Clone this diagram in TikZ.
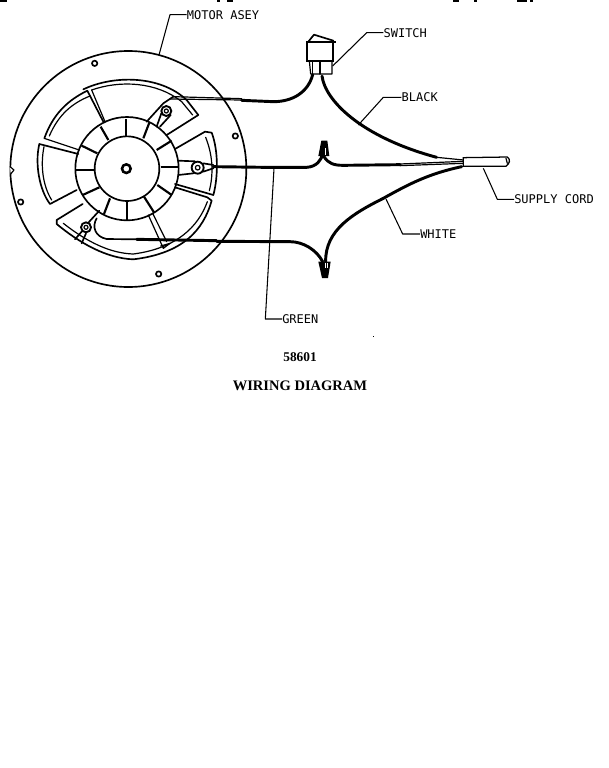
\documentclass[tikz,border=0pt]{standalone}
\usepackage{fontspec}
\setmainfont{Liberation Serif}
\newfontfamily\lblfont{DejaVu Sans Mono}
\tikzset{
  ln/.style={line width=1.25pt,line join=round,line cap=round},
  thn/.style={line width=0.9pt,line join=round,line cap=round},
  wire/.style={line width=2.2pt,line cap=round},
  leader/.style={line width=0.8pt,line join=round},
  lbl/.style={font=\lblfont\fontsize{9}{10}\selectfont,anchor=west,inner sep=0pt,text=black},
  captxt/.style={inner sep=0pt,text=black}
}
\begin{document}
\begin{tikzpicture}[x=0.25pt,y=-0.25pt]
\useasboundingbox (0,0) rectangle (1824,2304);
\fill[white] (0,0) rectangle (1824,2304);
% outer plate
\draw[ln] (385,507) circle [radius=354];
\draw[thn,fill=white] (30,500) -- (42,510) -- (32,522);
\foreach \p in {(284,190),(706,408),(476,822),(62,606)} \draw[ln] \p circle [radius=8];
% hub
\draw[ln] (381,506) circle [radius=97];
\draw[ln] (381,506) circle [radius=155];
\draw[line width=1.9pt] (379,506) circle [radius=13];
% hub ribs
\foreach \a/\b/\c/\d in {378/358/378/408,302/380/325/420,245/437/292/460,228/511/283/511,248/585/298/562,330/595/312/642,382/605/382/660,432/590/462/637,472/555/515/585,482/500/535/500,470/450/515/422,430/415/448/368}
  \draw[line width=1.6pt] (\a,\b) -- (\c,\d);
% blades
\draw[ln] (118,432) .. controls (104,490) and (118,570) .. (150,612) -- (230,570);
\draw[ln] (118,432) -- (235,462);
\draw[thn] (132,440) .. controls (120,500) and (130,560) .. (155,600);
\draw[ln] (133,415) .. controls (160,340) and (205,300) .. (262,272) -- (310,365);
\draw[thn] (133,415) -- (238,450);
\draw[thn] (148,408) .. controls (175,345) and (215,310) .. (270,288);
\draw[ln] (250,268) .. controls (340,225) and (480,225) .. (560,300) -- (595,345) -- (500,405);
\draw[thn] (275,270) .. controls (360,240) and (470,245) .. (545,305) -- (578,345);
\draw[thn] (275,270) -- (315,365);
\draw[ln] (525,447) -- (615,395) -- (635,398) .. controls (655,450) and (655,530) .. (640,585) -- (525,552);
\draw[thn] (617,412) .. controls (640,470) and (640,525) .. (628,572);
\draw[ln] (525,562) -- (622,592) -- (635,602) .. controls (610,690) and (550,760) .. (400,778) .. controls (320,775) and (240,730) .. (170,672) -- (170,660) -- (248,612);
\draw[thn] (622,605) .. controls (595,680) and (530,745) .. (400,762) .. controls (330,760) and (260,725) .. (190,670);
\draw[thn] (445,645) -- (490,745) -- (510,730) -- (482,738);
\draw[thn] (458,640) -- (500,725);
% terminals
\draw[line width=1.4pt,fill=white] (499,333) circle [radius=15];
\draw[thn] (499,333) circle [radius=6];
\draw[ln] (470,380) -- (484,340); \draw[ln] (480,380) -- (512,345);
\draw[ln] (440,365) -- (490,310) -- (520,290);
\draw[line width=1.4pt,fill=white] (593,503) circle [radius=18];
\draw[thn] (593,503) circle [radius=7];
\draw[ln] (535,482) -- (585,484); \draw[ln] (535,525) -- (580,520);
\draw[ln] (610,490) -- (640,495); \draw[ln] (610,515) -- (640,505);
\draw[line width=1.4pt,fill=white] (258,682) circle [radius=15];
\draw[thn] (258,682) circle [radius=6];
\draw[ln] (298,632) -- (265,668); \draw[ln] (225,718) -- (245,695); \draw[ln] (245,730) -- (258,700);
% switch
\draw[line width=1.6pt] (918,125) -- (1008,125);
\draw[ln] (925,125) -- (942,104) -- (1000,122);
\draw[line width=1.6pt] (922,130) -- (922,182) -- (1000,182) -- (1000,130);
\draw[thn] (928,182) -- (932,222) -- (996,222) -- (996,182);
\draw[thn] (960,185) -- (960,222); \draw[thn] (938,185) -- (938,222);
% wires
\draw[thn] (520,290) -- (725,296); \draw[thn] (510,297) -- (725,300);
\draw[wire] (725,301) -- (820,305) .. controls (880,305) and (925,275) .. (938,224);
\draw[wire] (966,228) .. controls (975,300) and (1080,410) .. (1310,472);
\draw[thn] (1310,472) -- (1390,480);
\draw[wire] (640,500) -- (795,502);
\draw[wire] (795,502) -- (920,502) .. controls (950,500) and (965,480) .. (968,460);
\draw[wire] (972,470) .. controls (985,490) and (1000,496) .. (1030,496) -- (1200,494);
\draw[thn] (1200,492) -- (1390,484); \draw[thn] (1200,497) -- (1390,490);
\draw[ln] (320,717) -- (410,718);
\draw[wire] (410,718) -- (650,722);
\draw[ln] (290,655) .. controls (275,680) and (285,710) .. (320,717);
\draw[wire] (650,724) -- (870,725) .. controls (910,725) and (950,750) .. (968,785);
\draw[wire] (977,785) .. controls (975,690) and (1060,640) .. (1150,595) .. controls (1230,550) and (1290,520) .. (1385,500);
% wire nuts
\fill (955,468) -- (964,422) -- (982,422) -- (988,468) -- cycle;
\draw[white,line width=0.5pt] (975,445) -- (975,466);
\fill (955,785) -- (992,785) -- (984,834) -- (966,834) -- cycle;
\draw[white,line width=0.5pt] (975,788) -- (975,805); \draw[white,line width=0.5pt] (982,788) -- (982,803);
% cord
\draw[line width=0.95pt,fill=white] (1390,473) -- (1522,471) .. controls (1532,478) and (1530,490) .. (1518,499) -- (1390,499) -- cycle;
\draw[thn] (1518,475) -- (1522,490);
% labels
\node[lbl] (motor) at (560,44) {MOTOR ASEY};
\node[lbl] (switch) at (1150,98) {SWITCH};
\node[lbl] (black) at (1204,292) {BLACK};
\node[lbl] (supply) at (1542,598) {SUPPLY CORD};
\node[lbl] (white) at (1260,702) {WHITE};
\node[lbl] (green) at (846,957) {GREEN};
\node[captxt,font=\bfseries\fontsize{10}{12}\selectfont] (num) at (900,1070) {58601};
\node[captxt,font=\bfseries\fontsize{10.9}{13}\selectfont] (title) at (900,1158) {WIRING DIAGRAM};
% leaders
\coordinate (motorpt) at (477,165);
\coordinate (swpt) at (998,198);
\coordinate (blackpt) at (1075,375);
\coordinate (supplypt) at (1450,505);
\coordinate (whitept) at (1158,597);
\coordinate (greenpt) at (822,505);
\draw[leader] (motor.west) -- (510,44) -- (motorpt);
\draw[leader] (switch.west) -- (1100,98) -- (swpt);
\draw[leader] (black.west) -- (1150,292) -- (blackpt);
\draw[leader] (supply.west) -- (1492,598) -- (supplypt);
\draw[leader] (white.west) -- (1208,702) -- (whitept);
\draw[leader] (green.west) -- (796,957) -- (greenpt);
% specks at the top edge
\fill (0,0) rectangle (20,5); \fill (650,0) rectangle (660,5); \fill (680,0) rectangle (700,5);
\fill (1360,0) rectangle (1376,5); \fill (1422,0) rectangle (1430,5); \fill (1550,0) rectangle (1580,5);\fill (1590,0) rectangle (1600,5);
\fill (1120,1008) rectangle (1123,1011);
\end{tikzpicture}
\end{document}
